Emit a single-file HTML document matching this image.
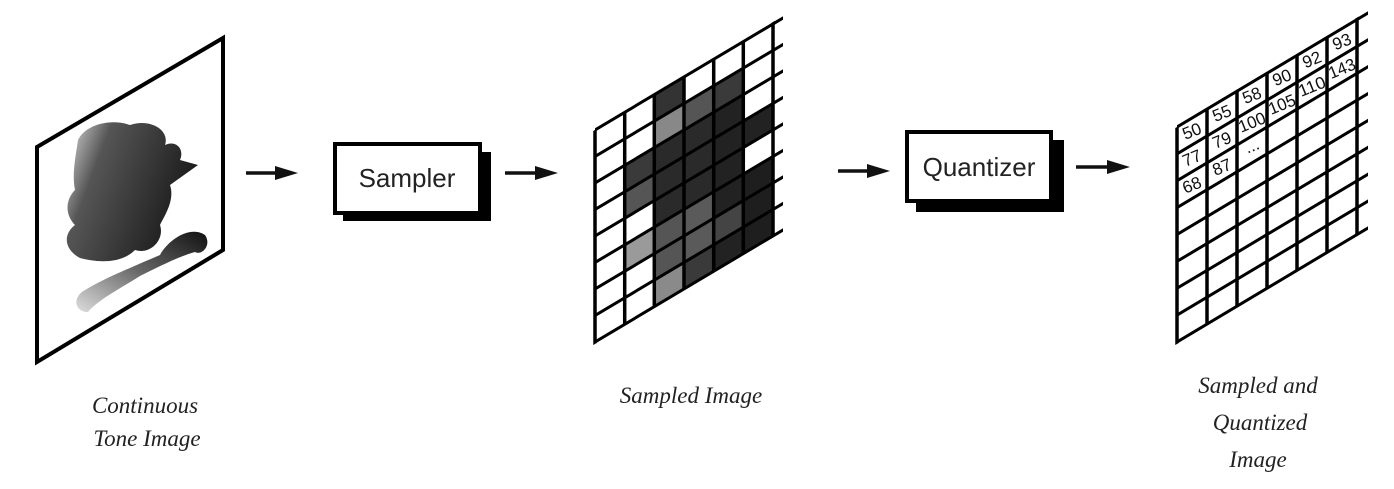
<!DOCTYPE html>
<html><head><meta charset="utf-8"><style>
html,body{margin:0;padding:0;background:#fff;}
svg{display:block;}
.lbl{font-family:"Liberation Serif",serif;font-style:italic;font-size:23px;fill:#222;}
.box{font-family:"Liberation Sans",sans-serif;font-size:26px;fill:#222;}
.num{font-family:"Liberation Sans",sans-serif;font-size:17px;fill:#111;}
</style></head><body>
<svg width="1394" height="489" viewBox="0 0 1394 489" xmlns="http://www.w3.org/2000/svg">
<defs>
<linearGradient id="g1" x1="0" y1="0" x2="1" y2="0.4">
<stop offset="0" stop-color="#ddd"/><stop offset="0.3" stop-color="#555"/><stop offset="1" stop-color="#1a1a1a"/>
</linearGradient>
<linearGradient id="g2" x1="0" y1="1" x2="1" y2="0">
<stop offset="0" stop-color="#ddd"/><stop offset="0.5" stop-color="#666"/><stop offset="1" stop-color="#111"/>
</linearGradient>
</defs>

<!-- continuous tone image -->
<path d="M78,140 C85,125 110,118 130,125 C150,118 170,130 165,145 C175,140 185,148 180,160 L198,165 L170,185 C175,200 165,215 160,225 C165,240 150,255 135,250 C120,265 95,262 80,258 C65,250 62,235 75,225 C65,215 65,200 75,190 C72,175 75,160 78,140Z" fill="url(#g1)"/>
<path d="M82,292 C100,280 130,268 160,255 C168,240 190,225 205,235 C212,245 202,256 195,252 C180,256 160,266 140,276 C118,290 98,300 88,312 C76,312 72,300 82,292Z" fill="url(#g2)"/>
<polygon points="37,147 223,38 223,250 37,362" fill="none" stroke="#000" stroke-width="4"/>

<!-- arrows -->
<g fill="#111" stroke="#111">
<line x1="246" y1="173" x2="280" y2="173" stroke-width="3.5"/><polygon points="275,166 298,173 275,180" stroke="none"/>
<line x1="505" y1="173" x2="540" y2="173" stroke-width="3.5"/><polygon points="535,166 558,173 535,180" stroke="none"/>
<line x1="838" y1="171" x2="872" y2="171" stroke-width="3.5"/><polygon points="867,164 890,171 867,178" stroke="none"/>
<line x1="1076" y1="167" x2="1112" y2="167" stroke-width="3.5"/><polygon points="1107,160 1130,167 1107,174" stroke="none"/>
</g>

<!-- Sampler -->
<rect x="343" y="152" width="148" height="69" fill="#000"/>
<rect x="335" y="144" width="145" height="69" fill="#fff" stroke="#000" stroke-width="4"/>
<text x="407" y="187" class="box" text-anchor="middle">Sampler</text>

<!-- Quantizer -->
<rect x="916" y="140" width="148" height="72" fill="#000"/>
<rect x="907" y="132" width="144" height="69" fill="#fff" stroke="#000" stroke-width="4"/>
<text x="979" y="176" class="box" text-anchor="middle">Quantizer</text>

<!-- Sampled grid -->
<g transform="translate(595,130) matrix(1,-0.596,0,1,0,0)">
<g stroke="none">
<rect x="29.7" y="53" width="29.7" height="26.5" fill="#3a3a3a"/>
<rect x="29.7" y="79.5" width="29.7" height="26.5" fill="#555"/>
<rect x="29.7" y="132.5" width="29.7" height="26.5" fill="#9a9a9a"/>
<rect x="59.3" y="0" width="29.7" height="26.5" fill="#333"/>
<rect x="59.3" y="26.5" width="29.7" height="26.5" fill="#888"/>
<rect x="59.3" y="53" width="29.7" height="79.5" fill="#2a2a2a"/>
<rect x="59.3" y="132.5" width="29.7" height="53" fill="#555"/>
<rect x="59.3" y="185.5" width="29.7" height="26.5" fill="#8a8a8a"/>
<rect x="89" y="26.5" width="29.7" height="26.5" fill="#555"/>
<rect x="89" y="53" width="29.7" height="79.5" fill="#2a2a2a"/>
<rect x="89" y="132.5" width="29.7" height="53" fill="#5a5a5a"/>
<rect x="89" y="185.5" width="29.7" height="26.5" fill="#3a3a3a"/>
<rect x="118.7" y="26.5" width="29.7" height="26.5" fill="#3a3a3a"/>
<rect x="118.7" y="53" width="29.7" height="159" fill="#222"/>
<rect x="118.7" y="159" width="29.7" height="26.5" fill="#444"/>
<rect x="148.3" y="79.5" width="29.7" height="26.5" fill="#222"/>
<rect x="148.3" y="132.5" width="29.7" height="79.5" fill="#1e1e1e"/>
</g>
<g stroke="#000" stroke-width="3.5" fill="none">
<line x1="0" y1="0" x2="188" y2="0"/><line x1="0" y1="26.5" x2="188" y2="26.5"/><line x1="0" y1="53" x2="188" y2="53"/><line x1="0" y1="79.5" x2="188" y2="79.5"/><line x1="0" y1="106" x2="188" y2="106"/><line x1="0" y1="132.5" x2="188" y2="132.5"/><line x1="0" y1="159" x2="188" y2="159"/><line x1="0" y1="185.5" x2="188" y2="185.5"/><line x1="0" y1="212" x2="188" y2="212"/>
<line x1="0" y1="0" x2="0" y2="214"/><line x1="29.7" y1="0" x2="29.7" y2="212"/><line x1="59.3" y1="0" x2="59.3" y2="212"/><line x1="89" y1="0" x2="89" y2="212"/><line x1="118.7" y1="0" x2="118.7" y2="212"/><line x1="148.3" y1="0" x2="148.3" y2="212"/><line x1="178" y1="-2" x2="178" y2="212"/>
</g>
</g>

<!-- Quantized grid -->
<g transform="translate(1177,127) matrix(1,-0.597,0,1,0,0)">
<g stroke="#000" stroke-width="3.5" fill="none">
<line x1="0" y1="0" x2="191" y2="0"/><line x1="0" y1="26.9" x2="191" y2="26.9"/><line x1="0" y1="53.8" x2="191" y2="53.8"/><line x1="0" y1="80.6" x2="191" y2="80.6"/><line x1="0" y1="107.5" x2="191" y2="107.5"/><line x1="0" y1="134.4" x2="191" y2="134.4"/><line x1="0" y1="161.3" x2="191" y2="161.3"/><line x1="0" y1="188.1" x2="191" y2="188.1"/><line x1="0" y1="215" x2="191" y2="215"/>
<line x1="0" y1="0" x2="0" y2="217"/><line x1="30" y1="0" x2="30" y2="215"/><line x1="60" y1="0" x2="60" y2="215"/><line x1="90" y1="0" x2="90" y2="215"/><line x1="120" y1="0" x2="120" y2="215"/><line x1="150" y1="0" x2="150" y2="215"/><line x1="180" y1="-2" x2="180" y2="215"/>
</g>
</g>
<g class="num" text-anchor="middle" dominant-baseline="central">
<text transform="translate(1192,131.4) rotate(-22)">50</text>
<text transform="translate(1222,113.5) rotate(-22)">55</text>
<text transform="translate(1252,95.6) rotate(-22)">58</text>
<text transform="translate(1282,77.7) rotate(-22)">90</text>
<text transform="translate(1312,59.8) rotate(-22)">92</text>
<text transform="translate(1342,41.9) rotate(-22)">93</text>
<text transform="translate(1192,158.3) rotate(-22)">77</text>
<text transform="translate(1222,140.4) rotate(-22)">79</text>
<text transform="translate(1252,122.5) rotate(-22)" textLength="28" lengthAdjust="spacingAndGlyphs">100</text>
<text transform="translate(1282,104.6) rotate(-22)" textLength="28" lengthAdjust="spacingAndGlyphs">105</text>
<text transform="translate(1312,86.7) rotate(-22)" textLength="28" lengthAdjust="spacingAndGlyphs">110</text>
<text transform="translate(1342,68.8) rotate(-22)" textLength="28" lengthAdjust="spacingAndGlyphs">143</text>
<text transform="translate(1192,185.2) rotate(-22)">68</text>
<text transform="translate(1222,167.3) rotate(-22)">87</text>
<text transform="translate(1252,146) rotate(-22)">...</text>
</g>

<!-- labels -->
<text x="145" y="413" class="lbl" text-anchor="middle">Continuous</text>
<text x="147" y="446" class="lbl" text-anchor="middle">Tone Image</text>
<text x="691" y="403" class="lbl" text-anchor="middle">Sampled Image</text>
<text x="1258" y="393" class="lbl" text-anchor="middle">Sampled and</text>
<text x="1260" y="430" class="lbl" text-anchor="middle">Quantized</text>
<text x="1258" y="467" class="lbl" text-anchor="middle">Image</text>
</svg>
</body></html>
